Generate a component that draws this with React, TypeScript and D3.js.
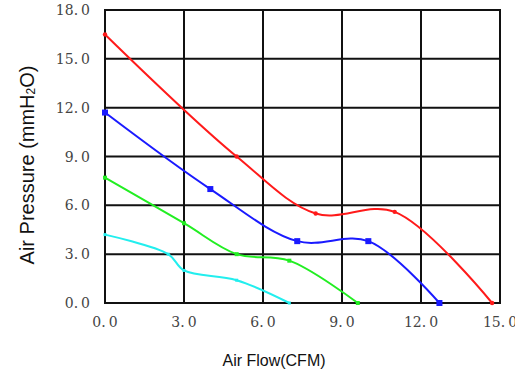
import React, { useEffect, useRef } from "react";
import * as d3 from "d3";

const xTicks = [0, 3, 6, 9, 12, 15];
const yTicks = [0, 3, 6, 9, 12, 15, 18];

const redX = [0, 5, 8, 11, 14.7];
const redY = [16.5, 9, 5.5, 5.6, 0];
const blueX = [0, 4, 7.3, 10, 12.7];
const blueY = [11.7, 7.0, 3.8, 3.8, 0];
const greenX = [0, 3, 5, 7, 9.6];
const greenY = [7.7, 4.9, 3.0, 2.6, 0];
const cyanX = [0, 2.4, 3, 5, 7.0];
const cyanY = [4.2, 3.0, 2.0, 1.4, 0];

const series = [
  { name: "red", xs: redX, ys: redY, color: "#ff1a1a", marker: "circle", size: 2.2 },
  { name: "blue", xs: blueX, ys: blueY, color: "#1a1aff", marker: "square", size: 6 },
  { name: "green", xs: greenX, ys: greenY, color: "#22ee22", marker: "square", size: 4 },
  { name: "cyan", xs: cyanX, ys: cyanY, color: "#22eeee", marker: "square", size: 3 },
];

function tickText(sel: any) {
  sel.each(function (this: SVGTextElement, d: number) {
    const s = d.toFixed(1);
    const [a, b] = s.split(".");
    const t = d3.select(this);
    t.append("tspan").text(a + ".");
    t.append("tspan").attr("dx", 3).text(b);
  });
}

export default function App() {
  const ref = useRef<SVGSVGElement>(null);
  useEffect(() => {
    const svg = d3.select(ref.current);
    svg.selectAll("*").remove();
    const x = d3.scaleLinear().domain([0, 15]).range([105, 500]);
    const y = d3.scaleLinear().domain([0, 18]).range([303, 10]);

    const g = svg.append("g");
    // grid
    g.selectAll("line.v").data(xTicks).join("line")
      .attr("x1", (d) => x(d)).attr("x2", (d) => x(d))
      .attr("y1", y(0)).attr("y2", y(18))
      .attr("stroke", "#111").attr("stroke-width", 2);
    g.selectAll("line.h").data(yTicks).join("line")
      .attr("x1", x(0) - 1).attr("x2", x(15) + 1)
      .attr("y1", (d) => y(d)).attr("y2", (d) => y(d))
      .attr("stroke", "#111").attr("stroke-width", 2);

    // tick labels
    g.selectAll("text.yt").data(yTicks).join("text")
      .attr("x", 90).attr("y", (d) => y(d))
      .attr("text-anchor", "end").attr("dominant-baseline", "central")
      .attr("font-family", "DejaVu Serif").attr("font-size", 14)
      .attr("fill", "#444")
      .call(tickText);
    g.selectAll("text.xt").data(xTicks).join("text")
      .attr("x", (d) => x(d)).attr("y", 322)
      .attr("text-anchor", "middle").attr("dominant-baseline", "central")
      .attr("font-family", "DejaVu Serif").attr("font-size", 14)
      .attr("fill", "#444")
      .call(tickText);

    const line = d3.line<[number, number]>()
      .x((d) => x(d[0])).y((d) => y(d[1]))
      .curve(d3.curveCatmullRom.alpha(0.5));

    series.forEach((s) => {
      const pts: [number, number][] = s.xs.map((v, i) => [v, s.ys[i]]);
      g.append("path").attr("d", line(pts)!).attr("fill", "none")
        .attr("stroke", s.color).attr("stroke-width", 2);
      if (s.marker === "circle") {
        g.selectAll(null).data(pts).join("circle")
          .attr("cx", (d) => x(d[0])).attr("cy", (d) => y(d[1]))
          .attr("r", s.size).attr("fill", s.color);
      } else {
        g.selectAll(null).data(pts).join("rect")
          .attr("x", (d) => x(d[0]) - s.size / 2).attr("y", (d) => y(d[1]) - s.size / 2)
          .attr("width", s.size).attr("height", s.size).attr("fill", s.color);
      }
    });

    // axis titles
    g.append("text")
      .attr("transform", "translate(27,165) rotate(-90)")
      .attr("text-anchor", "middle").attr("dominant-baseline", "central")
      .attr("font-family", "Liberation Sans").attr("font-size", 20)
      .attr("fill", "#111")
      .call((t) => {
        t.append("tspan").text("Air Pressure (mmH");
        t.append("tspan").attr("font-size", 12).attr("dy", 4).text("2");
        t.append("tspan").attr("dy", -4).text("O)");
      });
    g.append("text")
      .attr("x", 274).attr("y", 366)
      .attr("text-anchor", "middle")
      .attr("font-family", "Liberation Sans").attr("font-size", 16)
      .attr("fill", "#111")
      .text("Air Flow(CFM)");
  }, []);
  return (
    <svg ref={ref} width={515} height={377}
      style={{ position: "absolute", left: 0, top: 0, background: "#fff" }} />
  );
}
